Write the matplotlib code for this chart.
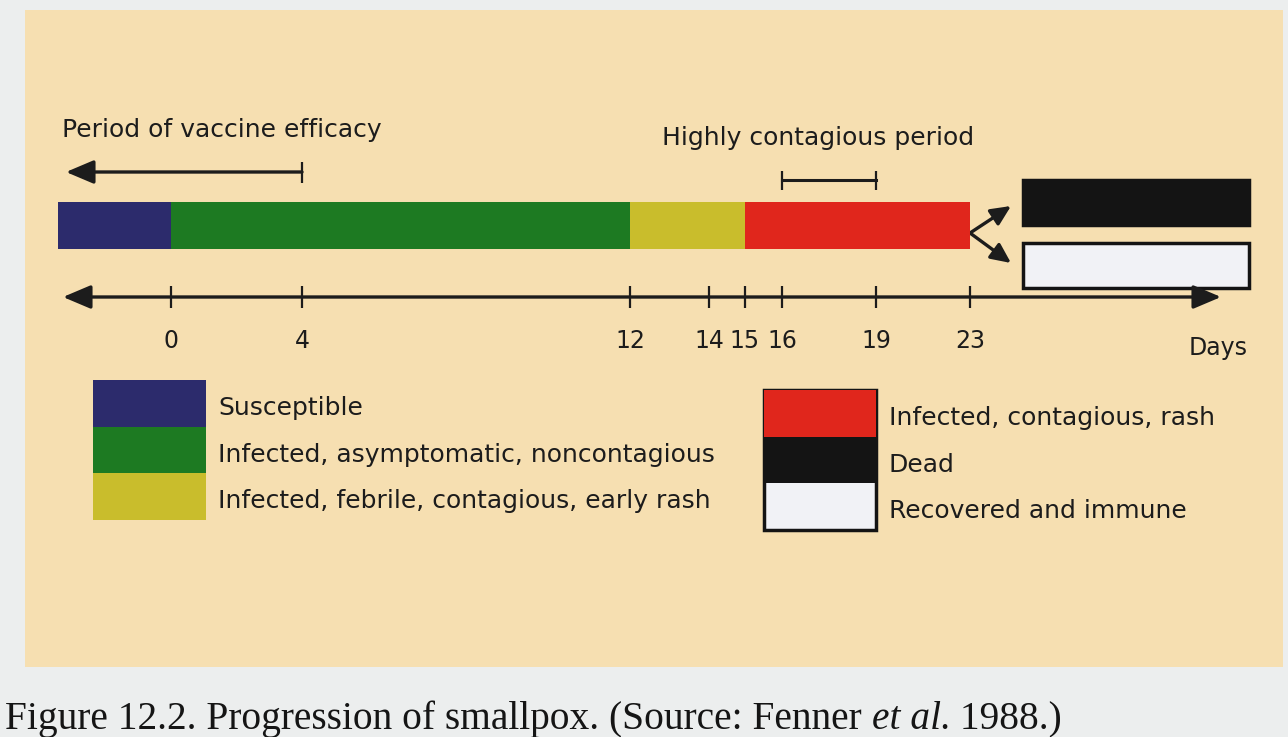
import numpy as np
import matplotlib
matplotlib.use("Agg")
import matplotlib.pyplot as plt
from matplotlib.patches import Rectangle

# ---------------- data ----------------
tick_days = [0, 4, 12, 14, 15, 16, 19, 23]
stage_labels = ["Susceptible",
                "Infected, asymptomatic, noncontagious",
                "Infected, febrile, contagious, early rash",
                "Infected, contagious, rash"]
stage_start = [-3.45, 0, 12, 15]
stage_end = [0, 12, 15, 23]
outcome_labels = ["Dead", "Recovered and immune"]
vaccine_efficacy_end = 4
contagious_period = [16, 19]
axis_label = "Days"
caption_main = "Figure 12.2. Progression of smallpox. (Source: Fenner "
caption_ital = "et al."
caption_tail = " 1988.)"

# ---------------- style ----------------
PAGE = "#eceeee"
PEACH = "#f6dfb1"
INK = "#1c1c1c"
stage_colors = ["#2c2b6c", "#1d7a22", "#c9bd2c", "#e0261c"]
outcome_colors = ["#141414", "#f1f2f6"]
SANS = ["DejaVu Sans"]
SERIF = ["Liberation Serif", "DejaVu Serif"]

# schematic (non-uniform) day axis of the original drawing: knots day -> pixel
knot_days = [-5.22, 0, 4, 12, 14, 15, 16, 19, 23, 36.5]
knot_px = [0, 171, 302, 630, 709, 745, 782, 876, 970, 1288]
fwd = lambda d: np.interp(d, knot_days, knot_px)
inv = lambda p: np.interp(p, knot_px, knot_days)

W, H = 1288, 737
fig = plt.figure(figsize=(W / 100, H / 100), dpi=100)
fig.patch.set_facecolor(PAGE)

# overlay axes in pixel units for layout items
ov = fig.add_axes([0, 0, 1, 1])
ov.set_xlim(0, W)
ov.set_ylim(H, 0)
ov.axis("off")
ov.add_patch(Rectangle((25, 10), 1258, 657, facecolor=PEACH, edgecolor="none", zorder=0))

# timeline axes: x in days (schematic scale), y in pixels
ax = fig.add_axes([0, 0, 1, 1])
ax.patch.set_alpha(0)
ax.set_xscale("function", functions=(fwd, inv))
ax.set_xlim(inv(0), inv(W))
ax.set_ylim(H, 0)
ax.axis("off")

ARROW = "-|>,head_length=0.85,head_width=0.36"
DARROW = "<|-|>,head_length=0.85,head_width=0.36"

# main progression bar
widths = [e - s for s, e in zip(stage_start, stage_end)]
ax.barh([225] * len(stage_start), widths, left=stage_start, height=47,
        color=stage_colors, edgecolor="none", zorder=2)

# day axis
ax.annotate("", xy=(inv(1221), 297), xytext=(inv(63), 297),
            arrowprops=dict(arrowstyle=DARROW, color=INK, lw=2.4,
                            shrinkA=0, shrinkB=0, mutation_scale=20))
ax.vlines(tick_days, 286, 308, color=INK, lw=1.6)
for d in tick_days:
    ax.text(d, 341, str(d), ha="center", va="center", fontsize=17,
            color=INK, family=SANS)
ax.text(inv(1218), 348, axis_label, ha="center", va="center", fontsize=17,
        color=INK, family=SANS)

# vaccine efficacy arrow
ax.annotate("", xy=(inv(66), 172), xytext=(vaccine_efficacy_end, 172),
            arrowprops=dict(arrowstyle=ARROW, color=INK, lw=2.4,
                            shrinkA=0, shrinkB=0, mutation_scale=20))
ax.vlines([vaccine_efficacy_end], 162, 183, color=INK, lw=1.6)
ov.text(62, 130, "Period of vaccine efficacy", ha="left", va="center",
        fontsize=18, color=INK, family=SANS)

# highly contagious bracket
ax.plot(contagious_period, [180, 180], color=INK, lw=2.2)
ax.vlines(contagious_period, 171, 190, color=INK, lw=1.6)
ov.text(818, 138, "Highly contagious period", ha="center", va="center",
        fontsize=18, color=INK, family=SANS)

# outcomes
box_y = [180, 243]
for y, c in zip(box_y, outcome_colors):
    ov.add_patch(Rectangle((1023, y), 226, 45, facecolor=c,
                           edgecolor="#141414", lw=2.5, zorder=2))
for ty in [206, 263]:
    ov.annotate("", xy=(1011, ty), xytext=(stage_end[-1], 233),
                textcoords=ax.transData,
                arrowprops=dict(arrowstyle="-|>,head_length=0.6,head_width=0.28",
                                color=INK, lw=2.4, shrinkA=0, shrinkB=0,
                                mutation_scale=20))

# legend
left_items = list(zip(stage_labels[:3], stage_colors[:3]))
right_items = [(stage_labels[3], stage_colors[3])] + list(zip(outcome_labels, outcome_colors))
for i, (lab, c) in enumerate(left_items):
    y0 = 380 + i * 46.5
    ov.add_patch(Rectangle((93, y0), 113, 46.5, facecolor=c, edgecolor="none", zorder=2))
    ov.text(218, y0 + 28, lab, ha="left", va="center", fontsize=18,
            color=INK, family=SANS)
for i, (lab, c) in enumerate(right_items):
    y0 = 390 + i * 46.5
    ov.add_patch(Rectangle((764, y0), 112, 46.5, facecolor=c, edgecolor="none", zorder=2))
    ov.text(889, y0 + 28, lab, ha="left", va="center", fontsize=18,
            color=INK, family=SANS)
ov.add_patch(Rectangle((764, 390), 112, 46.5 * 3, facecolor="none",
                       edgecolor="#141414", lw=2.5, zorder=3))
ov.add_patch(Rectangle((764, 390), 112, 46.5, facecolor=stage_colors[3],
                       edgecolor="none", zorder=4))

# caption
t1 = ov.text(5, 729, caption_main, ha="left", va="baseline", fontsize=28.4,
             color="#151515", family=SERIF)
t2 = ov.annotate(caption_ital, xy=(1, 0), xycoords=t1, va="bottom", ha="left",
                 fontsize=28.4, color="#151515", family=SERIF, style="italic")
t3 = ov.annotate(caption_tail, xy=(1, 0), xycoords=t2, va="bottom", ha="left",
                 fontsize=28.4, color="#151515", family=SERIF)

fig.savefig("out.png", dpi=100, facecolor=PAGE)
